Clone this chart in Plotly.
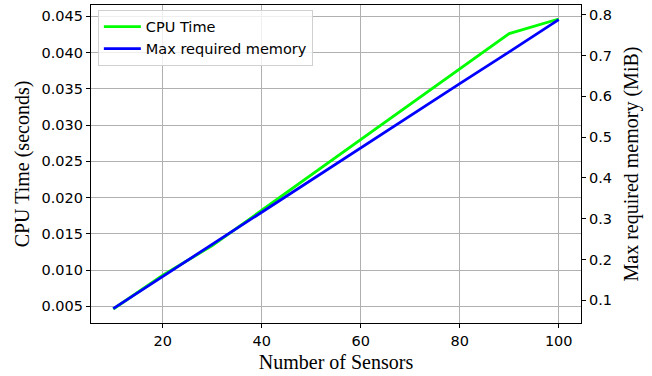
import plotly.graph_objects as go

sensors = [10, 20, 30, 40, 50, 60, 70, 80, 90, 100]
cpu_time = [0.00464, 0.0093, 0.01338, 0.01826, 0.0231, 0.02796, 0.0328, 0.0377, 0.04262, 0.04464]
max_memory = [0.080, 0.159, 0.237, 0.316, 0.395, 0.473, 0.552, 0.631, 0.709, 0.788]

tick_font = dict(family="DejaVu Sans", size=14.5, color="black")
title_font = dict(family="Liberation Serif, Times New Roman, serif", size=20, color="black")

fig = go.Figure()
fig.add_trace(go.Scatter(x=sensors, y=cpu_time, mode="lines", name="CPU Time",
                         line=dict(color="#00ff00", width=2.8), yaxis="y"))
fig.add_trace(go.Scatter(x=sensors, y=max_memory, mode="lines", name="Max required memory",
                         line=dict(color="#0000ff", width=2.8), yaxis="y2"))

fig.update_layout(
    width=652, height=376,
    margin=dict(l=91, r=71, t=5, b=53),
    plot_bgcolor="white", paper_bgcolor="white",
    xaxis=dict(range=[5.5, 104.5], tick0=0, dtick=20, showgrid=True, gridcolor="#b0b0b0", gridwidth=1,
               showline=True, linecolor="black", linewidth=1.2, mirror=True,
               ticks="outside", ticklen=4, tickcolor="black", tickfont=tick_font,
               zeroline=False,
               title=dict(text="Number of Sensors", font=title_font, standoff=7)),
    yaxis=dict(range=[0.00271, 0.04657], tick0=0.005, dtick=0.005, tickformat=".3f",
               showgrid=True, gridcolor="#b0b0b0", gridwidth=1,
               showline=True, linecolor="black", linewidth=1.2,
               ticks="outside", ticklen=4, tickcolor="black", tickfont=tick_font,
               zeroline=False,
               title=dict(text="CPU Time (seconds)", font=title_font, standoff=6)),
    yaxis2=dict(range=[0.0446, 0.8238], tick0=0, dtick=0.1, tickformat=".1f",
                overlaying="y", side="right", showgrid=False,
                showline=True, linecolor="black", linewidth=1.2,
                ticks="outside", ticklen=4, tickcolor="black", tickfont=tick_font,
                zeroline=False,
                title=dict(text="Max required memory (MiB)", font=title_font, standoff=12)),
    legend=dict(x=0.014, y=0.985, xanchor="left", yanchor="top",
                bgcolor="rgba(255,255,255,0.8)", bordercolor="#d0d0d0", borderwidth=1,
                font=dict(family="DejaVu Sans", size=14.5, color="black"),
                tracegroupgap=0, itemwidth=37),
    showlegend=True,
)

fig.write_html("out.html")
